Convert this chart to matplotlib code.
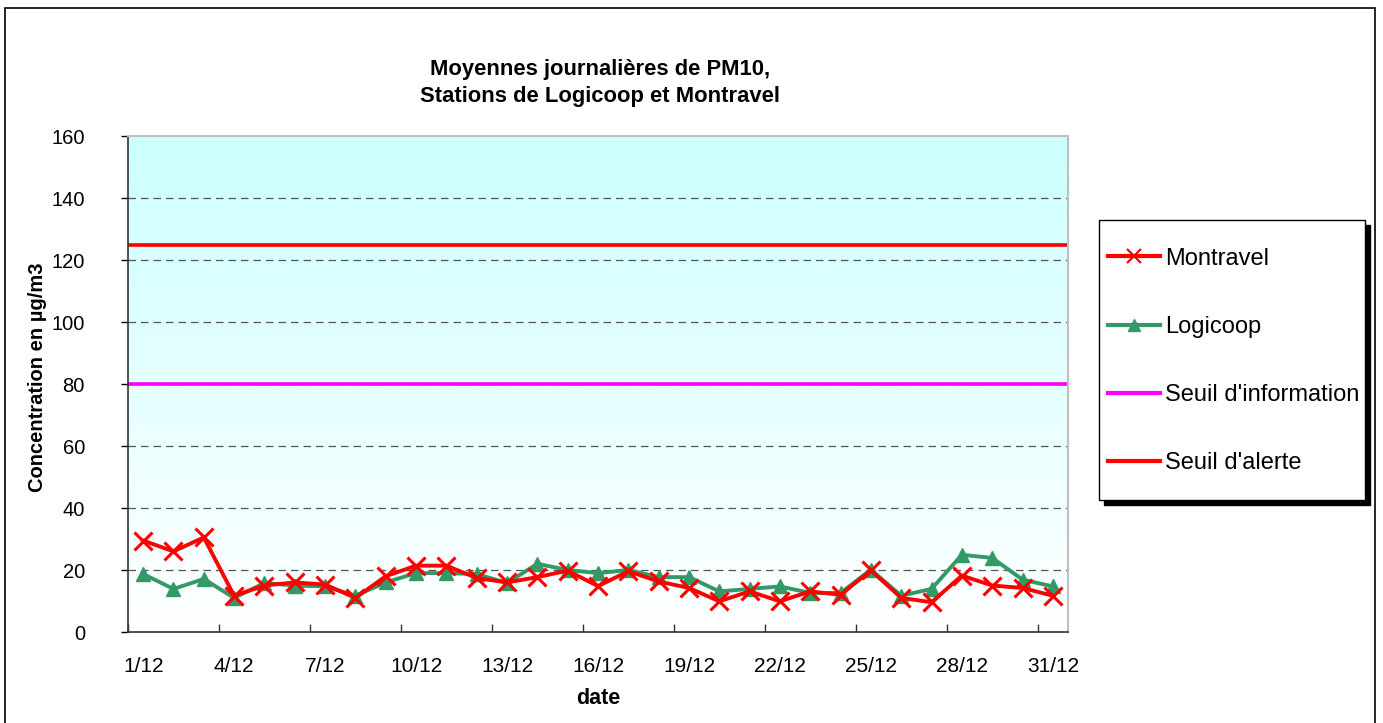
import numpy as np
import matplotlib
matplotlib.use("Agg")
import matplotlib.pyplot as plt
from matplotlib.patches import Rectangle
from matplotlib.lines import Line2D
from matplotlib.colors import LinearSegmentedColormap

plt.rcParams['font.family'] = ['Liberation Sans', 'DejaVu Sans']

dates = [f"{d}/12" for d in range(1, 32)]
montravel = [29.5, 26, 30.5, 11.7, 15, 16, 15.3, 11, 18, 21.4, 21.4, 17.4, 16, 17.7, 19.8,
             14.8, 19.6, 16.3, 14.2, 9.9, 13.1, 9.9, 13.1, 12, 19.9, 11, 9.6, 18.2, 15, 14.2, 11.7]
logicoop = [18.7, 13.9, 17.1, 11, 15.8, 15, 14.7, 11.7, 16, 19, 19, 18.7, 15.8, 22, 20,
            19, 20, 17.7, 17.7, 13.1, 13.9, 14.7, 12.6, 12.6, 20.1, 11.7, 13.9, 24.9, 23.9, 16.9, 14.7]
seuil_information = 80
seuil_alerte = 125
yticks = [0, 20, 40, 60, 80, 100, 120, 140, 160]

W, H = 1383, 723
fig = plt.figure(figsize=(W / 100, H / 100), dpi=100)
fig.patch.set_facecolor('white')

# outer frame
fig.patches.append(Rectangle((5 / W, -0.01), 1370 / W, 1 - 8 / H + 0.01, transform=fig.transFigure,
                             fill=False, edgecolor='black', linewidth=1.2, zorder=0))

ax = fig.add_axes([128 / W, 1 - 632 / H, 940 / W, 496 / H])
x = np.arange(len(dates))
ax.set_xlim(-0.5, len(dates) - 0.5)
ax.set_ylim(0, 160)

# gradient background
cmap = LinearSegmentedColormap.from_list('bg', ['#FFFFFF', '#CCFFFF'])
grad = np.linspace(0, 1, 256).reshape(-1, 1)
ax.imshow(grad, extent=[-0.5, len(dates) - 0.5, 0, 160], origin='lower', aspect='auto',
          cmap=cmap, zorder=0)

for yv in yticks[1:-1]:
    ax.axhline(yv, color='#555555', linestyle=(0, (6, 4)), linewidth=0.9, zorder=1)

ax.axhline(seuil_alerte, color='#FF0000', linewidth=2.6, zorder=2)
ax.axhline(seuil_information, color='#FF00FF', linewidth=2.6, zorder=2)

ax.plot(x, montravel, color='#FF0000', linewidth=2.8, marker='x', markersize=12.5,
        markeredgewidth=2.2, zorder=4)
ax.plot(x, logicoop, color='#339966', linewidth=2.8, marker='^', markersize=10, zorder=3)

# spines
for s in ['top', 'right']:
    ax.spines[s].set_color('#BFBFBF')
    ax.spines[s].set_linewidth(1.5)
for s in ['left', 'bottom']:
    ax.spines[s].set_color('#333333')
    ax.spines[s].set_linewidth(1.2)

ax.set_yticks(yticks)
ax.tick_params(axis='y', direction='out', length=5, width=1, pad=26, labelsize=14.5, colors='black')

# x: ticks at category boundaries every 3, labels at categories 1,4,...,31
ax.set_xticks(np.arange(-0.5, len(dates), 3))
ax.set_xticklabels([])
ax.tick_params(axis='x', which='major', direction='in', length=6, width=1, color='#333333')
ax.set_xticks(x[::3], minor=True)
ax.set_xticklabels(dates[::3], minor=True)
ax.tick_params(axis='x', which='minor', length=0, pad=18, labelsize=15)

ax.set_ylabel('Concentration en µg/m3', fontsize=14.5, fontweight='bold', va='center')
ax.yaxis.set_label_coords((38 - 128) / 940, (632 - 377) / 496)
ax.set_xlabel('date', fontsize=15.5, fontweight='bold', va='center')
ax.xaxis.set_label_coords(0.5, (632 - 698) / 496)

fig.text(600 / W, 1 - 83 / H, 'Moyennes journalières de PM10,\nStations de Logicoop et Montravel',
         ha='center', va='center', fontsize=15.8, fontweight='bold', linespacing=1.43)

# legend box with shadow (drawn manually)
lx0, ly0, lw, lh = 1099 / W, 1 - 500 / H, 266 / W, 280 / H
fig.patches.append(Rectangle((lx0 + 5 / W, ly0 - 5 / H), lw, lh, transform=fig.transFigure,
                             facecolor='black', edgecolor='black', zorder=5))
fig.patches.append(Rectangle((lx0, ly0), lw, lh, transform=fig.transFigure,
                             facecolor='white', edgecolor='black', linewidth=1, zorder=5.5))
h_info = Line2D([], [], color='#FF00FF', linewidth=3)
h_al = Line2D([], [], color='#FF0000', linewidth=3)
h_m = Line2D([], [], color='#FF0000', linewidth=3, marker='x', markersize=10, markeredgewidth=1.6)
h_l = Line2D([], [], color='#339966', linewidth=3, marker='^', markersize=9)
leg = fig.legend([h_m, h_l, h_info, h_al], ['Montravel', 'Logicoop', "Seuil d'information", "Seuil d'alerte"],
                 loc='center left', bbox_to_anchor=(1108 / W, 1 - 361 / H),
                 fontsize=17, frameon=False, handlelength=2.2, handletextpad=0.2,
                 labelspacing=1.96, borderpad=0, borderaxespad=0)
leg.set_zorder(6)

fig.savefig('out.png', dpi=100)
